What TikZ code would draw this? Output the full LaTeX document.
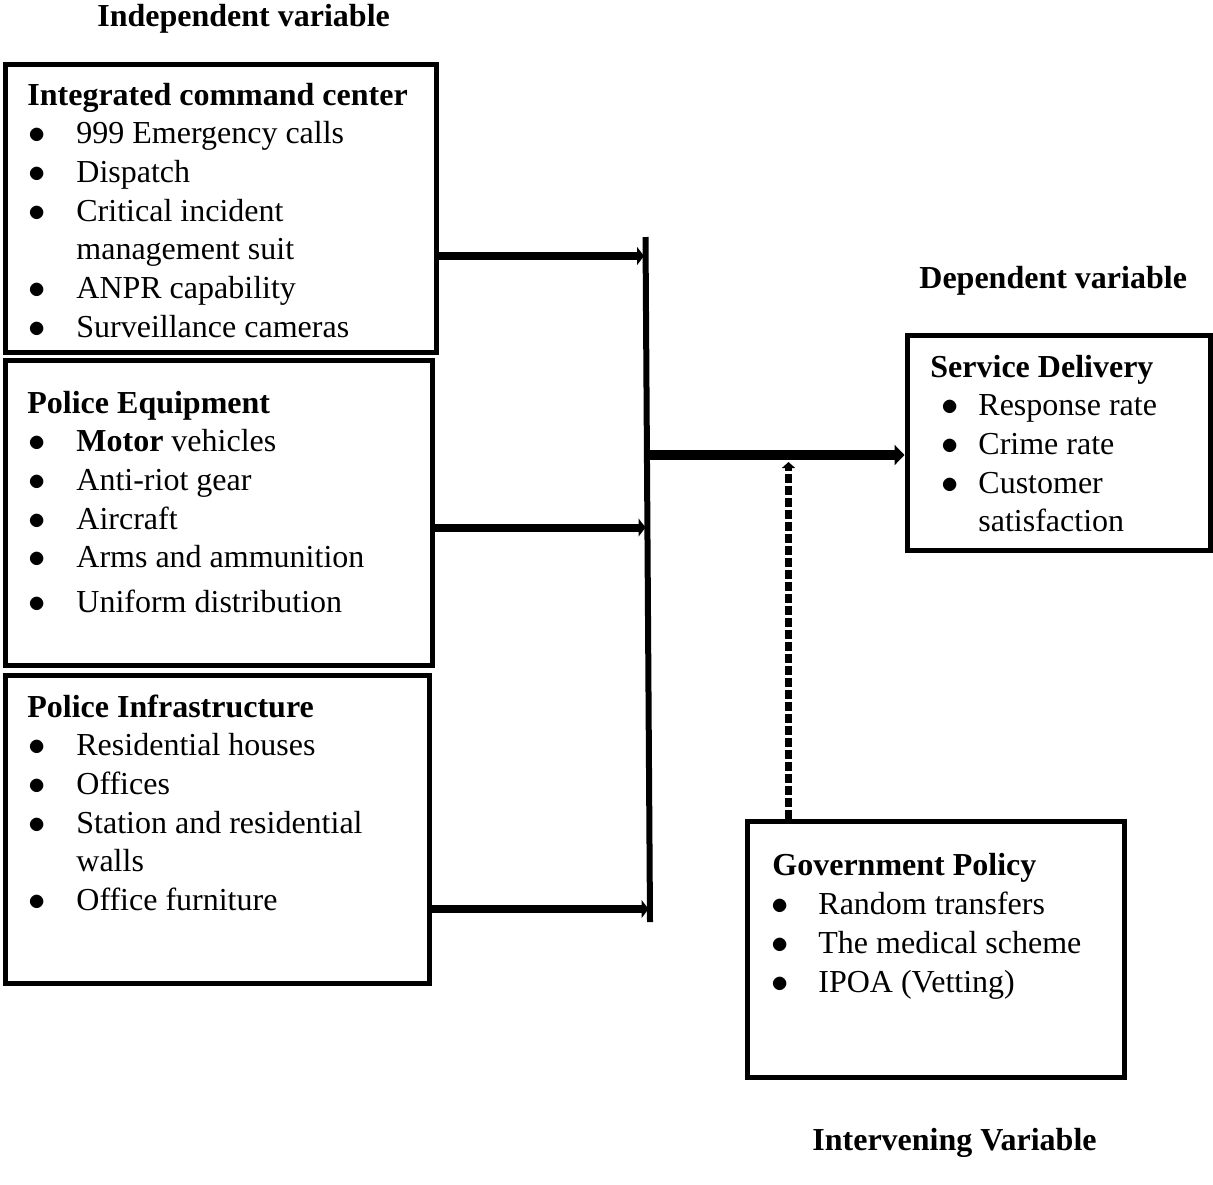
\documentclass[tikz,border=0pt]{standalone}
\usepackage{fontspec}
\setmainfont{Liberation Serif}
\usepackage{tikz}
\usetikzlibrary{arrows.meta,positioning,calc}
\newcommand{\itm}[1]{\makebox[24.5pt][l]{\hspace{0.5pt}$\bullet$}#1}
\newcommand{\itmsd}[1]{\makebox[24pt][l]{\hspace{5.5pt}$\bullet$}#1}
\newcommand{\itmgp}[1]{\makebox[23pt][l]{\hspace{-0.5pt}$\bullet$}#1}
\tikzset{
  varbox/.style={draw=black,line width=2.5pt,inner sep=0pt},
  boxtext/.style={anchor=base west,inner sep=0pt,font=\fontsize{16}{19.35}\selectfont},
  headtext/.style={anchor=base west,inner sep=0pt,font=\fontsize{16}{19.35}\selectfont\bfseries},
  feedarrow/.style={-{Triangle[length=3.5pt,width=9pt]},line width=4pt},
  mainarrow/.style={-{Triangle[length=5pt,width=10pt]},line width=5pt},
  dasharrow/.style={-{Triangle[length=3pt,width=6.5pt]},line width=3.5pt,dash pattern=on 4.5pt off 1.5pt},
  busline/.style={line width=3pt}
}
\begin{document}
\begin{tikzpicture}[x=0.5pt,y=-0.5pt]
\useasboundingbox (0,0) rectangle (1213,1184);
% headings
\node[headtext] (indep) at (97,26.5) {Independent variable};
\node[headtext] (dep) at (919,288.5) {Dependent variable};
\node[headtext] (interv) at (812,1150) {Intervening Variable};
% independent variables
\node[varbox,minimum width=215.5pt,minimum height=144pt] (icc) at (220.5,208) {};
\node[boxtext] (icctext) at (27,105) {\begin{tabular}[t]{@{}l@{}}
\textbf{Integrated command center}\\
\itm{999 Emergency calls}\\
\itm{Dispatch}\\
\itm{Critical incident}\\
\hspace*{24.5pt}management suit\\
\itm{ANPR capability}\\
\itm{Surveillance cameras}
\end{tabular}};
\node[varbox,minimum width=213.5pt,minimum height=152.5pt] (equip) at (218.5,512.5) {};
\node[boxtext] (equiptext) at (27,413) {\begin{tabular}[t]{@{}l@{}}
\textbf{Police Equipment}\\
\itm{\textbf{Motor} vehicles}\\
\itm{Anti-riot gear}\\
\itm{Aircraft}\\
\itm{Arms and ammunition}\\[3.2pt]
\itm{Uniform distribution}
\end{tabular}};
\node[varbox,minimum width=212pt,minimum height=154pt] (infra) at (217,829) {};
\node[boxtext] (infratext) at (27,717) {\begin{tabular}[t]{@{}l@{}}
\textbf{Police Infrastructure}\\
\itm{Residential houses}\\
\itm{Offices}\\
\itm{Station and residential}\\
\hspace*{24.5pt}walls\\
\itm{Office furniture}
\end{tabular}};
% dependent variable
\node[varbox,minimum width=151.5pt,minimum height=107.5pt] (sd) at (1058.5,442.5) {};
\node[boxtext] (sdtext) at (930,377) {\begin{tabular}[t]{@{}l@{}}
\textbf{Service Delivery}\\
\itmsd{Response rate}\\
\itmsd{Crime rate}\\
\itmsd{Customer}\\
\hspace*{24pt}satisfaction
\end{tabular}};
% intervening variable
\node[varbox,minimum width=188.5pt,minimum height=128pt] (gp) at (935.5,949) {};
\node[boxtext] (gptext) at (772,875) {\begin{tabular}[t]{@{}l@{}}
\textbf{Government Policy}\\[0.3pt]
\itmgp{Random transfers}\\[0.3pt]
\itmgp{The medical scheme}\\[0.3pt]
\itmgp{IPOA (Vetting)}
\end{tabular}};
% connectors
\coordinate (busT) at (645.5,237);
\coordinate (busB) at (650,922);
\draw[busline] (busT) -- (busB);
\coordinate (in1) at (644,256);
\coordinate (in2) at (645.5,527.5);
\coordinate (in3) at (648.5,909);
\draw[feedarrow] (icc.east |- in1) -- (in1);
\draw[feedarrow] (equip.east |- in2) -- (in2);
\draw[feedarrow] (infra.east |- in3) -- (in3);
\coordinate (out) at (647,455);
\draw[mainarrow] (out) -- (out -| sd.west);
\coordinate (gpin) at (788.5,462);
\draw[dasharrow] (gp.north -| gpin) -- (gpin);
\end{tikzpicture}
\end{document}
